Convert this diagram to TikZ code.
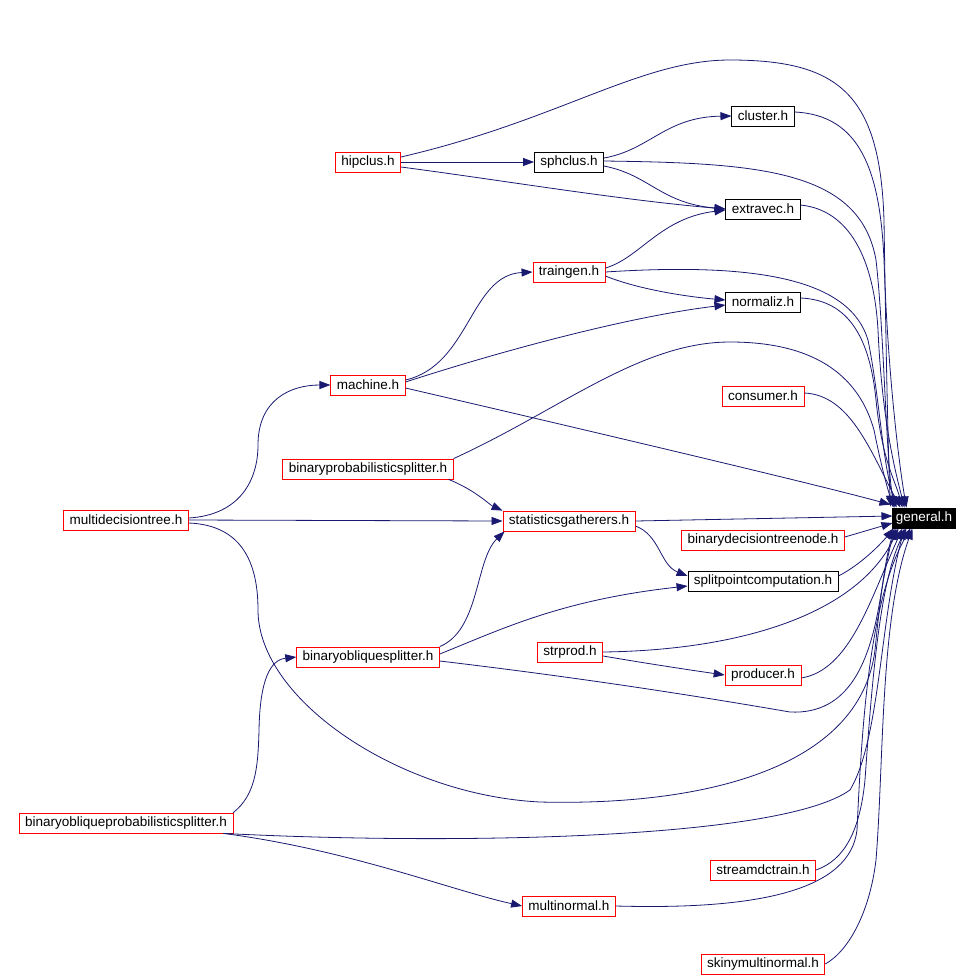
\documentclass[tikz,border=0pt]{standalone}
\usepackage{fontspec}
\setmainfont{Liberation Sans}
\usetikzlibrary{arrows.meta}
\definecolor{edgeblue}{RGB}{25,25,112}
\definecolor{boxred}{RGB}{255,0,0}
\begin{document}
\begin{tikzpicture}[x=1pt,y=-1pt,
  box/.style={draw=black,line width=0.8pt,fill=white,inner xsep=6pt,inner ysep=0pt,minimum height=20pt,font=\fontsize{13.5}{15}\selectfont},
  rbox/.style={box,draw=boxred},
  genbox/.style={box,fill=black,text=white,inner xsep=3pt},
  e/.style={draw=edgeblue,line width=0.8pt,-{Triangle[length=11pt,width=8pt]}}]
\useasboundingbox (0,0) rectangle (974,978);
% nodes
\node[genbox] (gen) at (924,518) {general.h};
\node[box] (clu) at (763,116) {cluster.h};
\node[rbox] (hip) at (368,162) {hipclus.h};
\node[box] (sph) at (569,162) {sphclus.h};
\node[box] (ext) at (763,209) {extravec.h};
\node[rbox] (trg) at (569,272) {traingen.h};
\node[box] (nrm) at (763,302) {normaliz.h};
\node[rbox] (mac) at (368,385) {machine.h};
\node[rbox] (con) at (763,396) {consumer.h};
\node[rbox] (bps) at (368,469) {binaryprobabilisticsplitter.h};
\node[rbox] (mdt) at (126,520) {multidecisiontree.h};
\node[rbox] (sg) at (569,521) {statisticsgatherers.h};
\node[rbox] (bdt) at (763,540) {binarydecisiontreenode.h};
\node[box] (spc) at (763,581) {splitpointcomputation.h};
\node[rbox] (bos) at (368,657) {binaryobliquesplitter.h};
\node[rbox] (spr) at (570,652) {strprod.h};
\node[rbox] (pro) at (763,675) {producer.h};
\node[rbox] (bops) at (126,823) {binaryobliqueprobabilisticsplitter.h};
\node[rbox] (sdc) at (763,870) {streamdctrain.h};
\node[rbox] (mn) at (569,906) {multinormal.h};
\node[rbox] (smn) at (763,964) {skinymultinormal.h};
% edges
\draw[e] ([yshift=5pt]hip.east) .. controls (560,120) and (640,60) .. (730,60) .. controls (840,60) and (880,95) .. (884,220) .. controls (886,350) and (888,450) .. ([xshift=-2pt,yshift=1pt]gen.north west);
\draw[e] (hip.east) -- (sph.west);
\draw[e] ([yshift=-5pt]hip.east) .. controls (500,180) and (620,200) .. (ext.west);
\draw[e] ([yshift=4pt]sph.east) .. controls (650,150) and (665,117) .. (clu.west);
\draw[e] ([yshift=-4pt]sph.east) .. controls (650,175) and (660,203) .. (ext.west);
\draw[e] ([yshift=1pt]sph.east) .. controls (760,163) and (860,170) .. (876,260) .. controls (884,330) and (886,460) .. ([xshift=2pt]gen.north west);
\draw[e] ([yshift=4pt]clu.east) .. controls (860,115) and (880,170) .. (884,260) .. controls (888,380) and (900,470) .. ([xshift=14pt]gen.north west);
\draw[e] ([yshift=4pt]ext.east) .. controls (850,210) and (874,260) .. (878,330) .. controls (882,420) and (895,470) .. ([xshift=12pt]gen.north west);
\draw[e] ([yshift=4pt]trg.east) .. controls (640,258) and (660,218) .. ([yshift=-1pt]ext.west);
\draw[e] ([yshift=-4pt]trg.east) .. controls (640,290) and (690,297) .. ([yshift=2pt]nrm.west);
\draw[e] ([yshift=3pt]mac.east) .. controls (520,345) and (640,315) .. ([yshift=-3pt]nrm.west);
\draw[e] (trg.east) .. controls (760,262) and (850,280) .. (868,340) .. controls (880,400) and (882,460) .. ([xshift=4pt]gen.north west);
\draw[e] ([yshift=4pt]nrm.east) .. controls (850,300) and (870,340) .. (876,400) .. controls (882,460) and (895,480) .. ([xshift=10pt]gen.north west);
\draw[e] ([yshift=5pt]mac.east) .. controls (470,365) and (470,275) .. (trg.west);
\draw[e] ([yshift=-3pt]mac.east) .. controls (500,410) and (800,480) .. ([xshift=-2pt,yshift=3pt]gen.north west);
\draw[e] ([yshift=3pt]con.east) .. controls (850,395) and (870,450) .. ([xshift=8pt]gen.north west);
\draw[e] (bps.north east) .. controls (560,410) and (640,342) .. (730,342) .. controls (820,342) and (860,380) .. (874,430) .. controls (882,470) and (888,490) .. ([xshift=1pt]gen.north west);
\draw[e] ([xshift=-5pt]bps.south east) .. controls (475,490) and (490,505) .. (sg.north west);
\draw[e] ([yshift=2pt]mdt.east) .. controls (240,515) and (258,480) .. (258,445) .. controls (258,400) and (290,385) .. (mac.west);
\draw[e] (mdt.east) -- (sg.west);
\draw[e] ([yshift=-3pt]mdt.east) .. controls (240,525) and (258,560) .. (258,610) .. controls (258,700) and (400,795) .. (540,802) .. controls (700,806) and (860,770) .. (875,650) .. controls (880,600) and (885,560) .. ([xshift=2pt]gen.south west);
\draw[e] (sg.east) -- ([yshift=2pt]gen.west);
\draw[e] ([yshift=-5pt]sg.east) .. controls (660,535) and (660,565) .. ([yshift=5pt]spc.west);
\draw[e] ([yshift=3pt]bdt.east) -- ([yshift=-5pt]gen.west);
\draw[e] ([yshift=5pt]spc.east) .. controls (860,565) and (880,545) .. ([xshift=1pt]gen.south west);
\draw[e] (bos.north east) .. controls (480,630) and (475,560) .. ([xshift=2pt]sg.south west);
\draw[e] ([yshift=3pt]bos.east) .. controls (500,630) and (560,600) .. ([yshift=-5pt]spc.west);
\draw[e] ([yshift=-4pt]bos.east) .. controls (600,680) and (720,700) .. (790,712) .. controls (850,715) and (870,660) .. (880,600) .. controls (885,570) and (890,545) .. ([xshift=4pt]gen.south west);
\draw[e] (spr.east) .. controls (750,650) and (860,610) .. ([xshift=6pt]gen.south west);
\draw[e] ([yshift=-4pt]spr.east) .. controls (650,664) and (690,670) .. (pro.west);
\draw[e] ([yshift=-3pt]pro.east) .. controls (850,670) and (870,600) .. ([xshift=10pt]gen.south west);
\draw[e] (bops.north east) .. controls (255,795) and (258,770) .. (259,730) .. controls (260,680) and (270,660) .. (bos.west);
\draw[e] ([xshift=-10pt]bops.south east) .. controls (450,845) and (780,840) .. (850,790) .. controls (880,740) and (880,620) .. ([xshift=12pt]gen.south west);
\draw[e] ([xshift=-10pt]bops.south east) .. controls (350,850) and (450,890) .. (mn.west);
\draw[e] (sdc.east) .. controls (845,860) and (860,830) .. (865,780) .. controls (872,680) and (880,580) .. ([xshift=14pt]gen.south west);
\draw[e] (mn.east) .. controls (760,910) and (850,890) .. (857,830) .. controls (862,720) and (870,600) .. ([xshift=18pt]gen.south west);
\draw[e] (smn.east) .. controls (850,950) and (870,910) .. (876,860) .. controls (884,760) and (880,620) .. ([xshift=20pt]gen.south west);
\end{tikzpicture}
\end{document}
